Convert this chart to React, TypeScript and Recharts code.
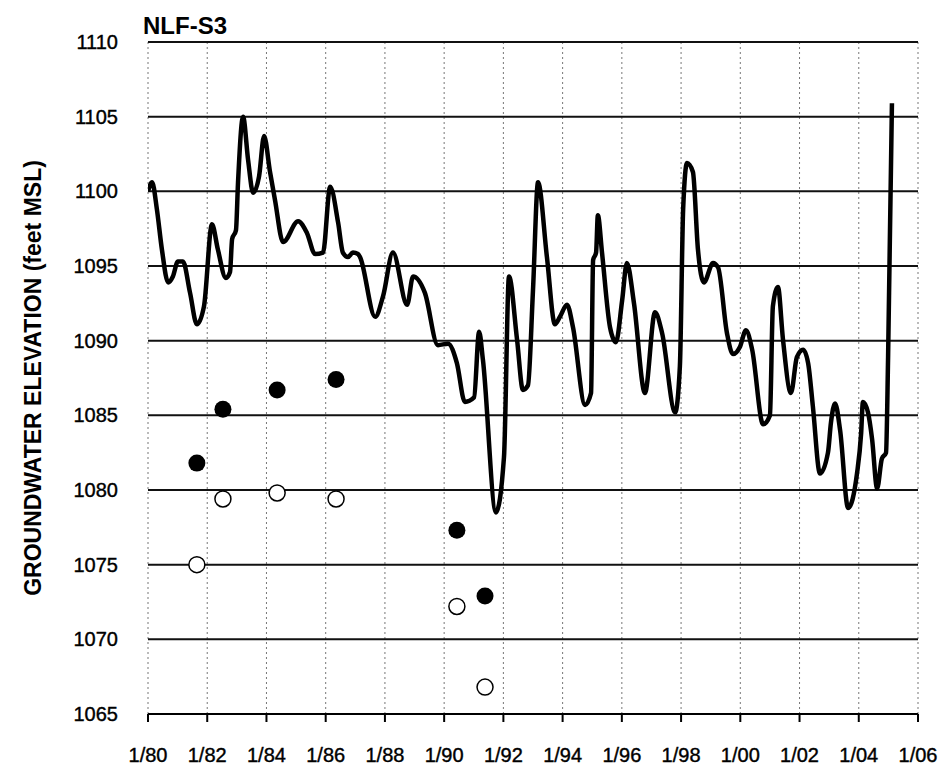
import {
  ComposedChart,
  Line,
  Scatter,
  XAxis,
  YAxis,
  CartesianGrid,
} from "recharts";

// monitoring well NLF-S3 hydrograph
const lineYears = [
  1980.0, 1980.14, 1980.3, 1980.47, 1980.68, 1980.84, 1981.01, 1981.18, 1981.42,
  1981.65, 1981.89, 1982.16, 1982.36, 1982.63, 1982.77, 1982.84, 1982.97, 1983.04,
  1983.21, 1983.38, 1983.55, 1983.75, 1983.92, 1984.12, 1984.29, 1984.56, 1985.07,
  1985.37, 1985.64, 1985.91, 1986.15, 1986.42, 1986.58, 1986.75, 1986.92, 1987.09,
  1987.16, 1987.67, 1987.94, 1988.27, 1988.75, 1988.95, 1989.35, 1989.79, 1990.13,
  1990.43, 1990.7, 1991.01, 1991.18, 1991.31, 1991.75, 1992.02, 1992.19, 1992.46,
  1992.66, 1992.83, 1993.0, 1993.17, 1993.47, 1993.74, 1993.91, 1994.15, 1994.35,
  1994.76, 1994.96, 1995.03, 1995.13, 1995.19, 1995.33, 1995.6, 1995.8, 1996.01,
  1996.17, 1996.41, 1996.78, 1997.12, 1997.36, 1997.8, 1997.96, 1998.07, 1998.2,
  1998.4, 1998.57, 1998.77, 1999.08, 1999.25, 1999.55, 1999.75, 1999.99, 2000.19,
  2000.4, 2000.77, 2001.0, 2001.1, 2001.27, 2001.44, 2001.71, 2001.91, 2002.12,
  2002.29, 2002.45, 2002.69, 2002.96, 2003.06, 2003.2, 2003.37, 2003.64, 2003.94,
  2004.08, 2004.14, 2004.31, 2004.45, 2004.62, 2004.78, 2004.92, 2004.99, 2005.12,
];

const lineLevels = [
  1100.0, 1100.6, 1098.8, 1096.1, 1093.9, 1094.3, 1095.3, 1095.3, 1093.2,
  1091.1, 1092.3, 1097.8, 1096.1, 1094.2, 1094.6, 1096.8, 1097.4, 1100.6,
  1105.0, 1102.1, 1099.9, 1101.0, 1103.7, 1101.3, 1099.4, 1096.6, 1098.0,
  1097.2, 1095.8, 1095.9, 1100.3, 1097.9, 1095.9, 1095.6, 1095.9, 1095.8,
  1095.6, 1091.6, 1093.0, 1095.9, 1092.4, 1094.3, 1093.2, 1089.7, 1089.8,
  1088.5, 1085.9, 1086.2, 1090.6, 1088.7, 1078.5, 1082.2, 1094.3, 1090.1,
  1086.7, 1087.0, 1093.4, 1100.6, 1095.6, 1091.1, 1091.6, 1092.4, 1090.9,
  1085.7, 1086.5, 1095.4, 1095.9, 1098.4, 1095.9, 1090.9, 1089.9, 1092.7,
  1095.2, 1092.5, 1086.5, 1091.9, 1090.5, 1085.2, 1088.3, 1098.8, 1101.9,
  1101.3, 1096.1, 1093.9, 1095.2, 1094.9, 1090.5, 1089.1, 1089.6, 1090.7,
  1089.4, 1084.4, 1085.0, 1092.3, 1093.6, 1090.1, 1086.5, 1088.9, 1089.4,
  1088.5, 1085.6, 1081.1, 1082.5, 1084.5, 1085.8, 1084.0, 1078.8, 1081.1,
  1083.8, 1085.9, 1085.2, 1083.4, 1080.1, 1082.1, 1082.5, 1088.9, 1105.9,
];

const sampleYears = [1981.65, 1982.53, 1984.36, 1986.35, 1990.43, 1991.38];
const filledLevels = [1081.8, 1085.4, 1086.7, 1087.4, 1077.3, 1072.9];
const openLevels = [1075.0, 1079.4, 1079.8, 1079.4, 1072.2, 1066.8];

const xTicks = [
  1980, 1982, 1984, 1986, 1988, 1990, 1992, 1994, 1996, 1998, 2000, 2002, 2004, 2006,
];
const yTicks = [1065, 1070, 1075, 1080, 1085, 1090, 1095, 1100, 1105, 1110];

const hydrograph = lineYears.map((t, i) => ({ t, v: lineLevels[i] }));
const filledPts = sampleYears.map((t, i) => ({ t, v: filledLevels[i] }));
const openPts = sampleYears.map((t, i) => ({ t, v: openLevels[i] }));

const FONT = '"Liberation Sans", Arial, sans-serif';

const fmtYear = (y: number) => `1/${String(y % 100).padStart(2, "0")}`;

const tickStyle = {
  fill: "#000",
  stroke: "#000",
  strokeWidth: 0.4,
  fontSize: 20,
  fontFamily: FONT,
};

const FilledDot = (props: any) => (
  <circle cx={props.cx} cy={props.cy} r={8.5} fill="#000" />
);
const OpenDot = (props: any) => (
  <circle cx={props.cx} cy={props.cy} r={8} fill="#fff" stroke="#000" strokeWidth={1.5} />
);

export default function App() {
  return (
    <div style={{ position: "absolute", left: 0, top: 0, width: 943, height: 770, background: "#fff" }}>
      <ComposedChart
        width={943}
        height={770}
        margin={{ top: 42, right: 25, left: 80, bottom: 6 }}
      >
        <CartesianGrid
          horizontal={false}
          stroke="#777"
          strokeDasharray="2 3"
          strokeWidth={1}
        />
        <CartesianGrid vertical={false} stroke="#111" strokeWidth={2} />
        <XAxis
          type="number"
          dataKey="t"
          domain={[1980, 2006]}
          ticks={xTicks}
          tickFormatter={fmtYear}
          height={50}
          tickSize={8}
          tickMargin={26}
          axisLine={{ stroke: "#000", strokeWidth: 2 }}
          tickLine={{ stroke: "#000", strokeWidth: 2 }}
          tick={tickStyle}
          allowDataOverflow
        />
        <YAxis
          type="number"
          dataKey="v"
          domain={[1065, 1110]}
          ticks={yTicks}
          width={68}
          tickSize={0}
          tickMargin={30}
          axisLine={false}
          tickLine={false}
          tick={tickStyle}
          allowDataOverflow
        />
        <Line
          data={hydrograph}
          dataKey="v"
          type="monotone"
          stroke="#000"
          strokeWidth={4.5}
          strokeLinejoin="round"
          dot={false}
          activeDot={false}
          isAnimationActive={false}
        />
        <Scatter data={filledPts} dataKey="v" shape={FilledDot} isAnimationActive={false} />
        <Scatter data={openPts} dataKey="v" shape={OpenDot} isAnimationActive={false} />
      </ComposedChart>
      <svg
        width={943}
        height={770}
        style={{ position: "absolute", left: 0, top: 0, pointerEvents: "none" }}
      >
        <text x={143} y={34} fontFamily={FONT} fontWeight="bold" fontSize={24} fill="#000">
          NLF-S3
        </text>
        <text
          transform="translate(33,378) rotate(-90)"
          textAnchor="middle"
          dominantBaseline="central"
          fontFamily={FONT}
          fontWeight="bold"
          fontSize={23}
          fill="#000"
        >
          GROUNDWATER ELEVATION (feet MSL)
        </text>
      </svg>
    </div>
  );
}
